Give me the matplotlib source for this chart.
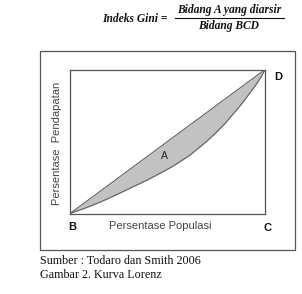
import numpy as np
import matplotlib
matplotlib.use("Agg")
import matplotlib.pyplot as plt
from matplotlib.patches import Rectangle
from matplotlib.lines import Line2D

# Lorenz curve (share of population vs share of income)
pop = [0.0, 0.075, 0.16, 0.246, 0.33, 0.40, 0.47, 0.53, 0.615, 0.70,
       0.744, 0.795, 0.88, 0.949, 0.983, 1.0]
income = [0.0, 0.036, 0.082, 0.135, 0.19, 0.235, 0.285, 0.33, 0.405, 0.50,
          0.555, 0.625, 0.76, 0.885, 0.955, 1.0]
equality = [0.0, 1.0]

fig = plt.figure(figsize=(3.02, 2.94), dpi=100)

# outer frame around the diagram
fig.patches.append(Rectangle((40/302, 1-250/294), 255/302, 199/294,
                             transform=fig.transFigure, fill=False,
                             edgecolor="#555555", linewidth=0.9))

ax = fig.add_axes([70/302, 1-213.5/294, 195/302, 144/294])
line_eq = np.interp(pop, equality, equality)
ax.fill_between(pop, income, line_eq, color="#c2c2c2", linewidth=0)
ax.plot(equality, equality, color="#606060", linewidth=0.8)
ax.plot(pop, income, color="#606060", linewidth=0.8)
ax.set_xlim(0, 1)
ax.set_ylim(0, 1)
ax.set_xticks([])
ax.set_yticks([])
for s in ax.spines.values():
    s.set_color("#555555")
    s.set_linewidth(0.9)
ax.text(0.485, 0.4, "A", fontsize=7.5, family="Liberation Sans", color="#222222",
        ha="center", va="center")

# corner labels
lab = dict(family="Liberation Sans", fontsize=8, fontweight="bold", color="#111111",
           ha="center", va="center")
fig.text(278/302, 1-77/294, "D", **lab)
fig.text(72/302, 1-227/294, "B", **lab)
fig.text(268/302, 1-228/294, "C", **lab)
fig.text(160/302, 1-226/294, "Persentase Populasi", family="Liberation Sans",
         fontsize=8, color="#444444", ha="center", va="center")
fig.text(57/302, 1-143/294, "Persentase  Pendapatan", family="Liberation Sans",
         fontsize=8, color="#444444", ha="center", va="center", rotation=90)

# Gini formula
ft = dict(family="Liberation Serif", fontsize=8.3, fontweight="bold", style="italic",
          color="#111111", va="center")
fig.text(102/302, 1-18.5/294, "Indeks Gini =", ha="left", **ft)
fig.text(229/302, 1-10/294, "Bidang A yang diarsir", ha="center", **ft)
fig.text(229/302, 1-26/294, "Bidang BCD", ha="center", **ft)
fig.lines.append(Line2D([175/302, 284/302], [1-18/294, 1-18/294],
                        transform=fig.transFigure, color="#111111", linewidth=0.8))

# caption
cap = dict(family="Liberation Serif", fontsize=8.7, color="#111111", ha="left", va="center")
fig.text(40/302, 1-261/294, "Sumber : Todaro dan Smith 2006", **cap)
fig.text(40/302, 1-275/294, "Gambar 2. Kurva Lorenz", **cap)

fig.savefig("out.png", dpi=100)
